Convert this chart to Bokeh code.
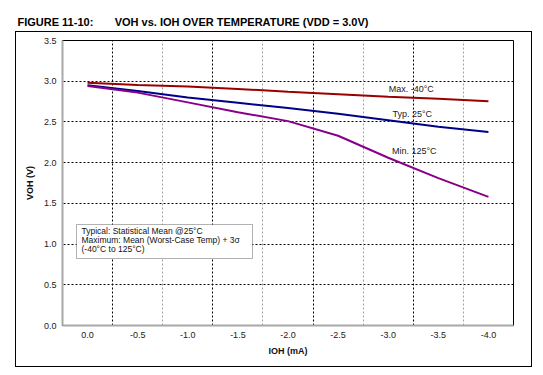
from bokeh.plotting import figure
from bokeh.models import (Range1d, FixedTicker, Grid, Label, BoxAnnotation,
                          CustomJSTickFormatter, InlineStyleSheet)
from bokeh.embed import file_html
from bokeh.resources import INLINE
from bokeh.core.properties import value

# ---- data ----
ioh = [0.0, -0.5, -1.0, -1.5, -2.0, -2.5, -3.0, -3.5, -4.0]
voh_max_m40 = [2.98, 2.955, 2.935, 2.905, 2.87, 2.84, 2.81, 2.785, 2.755]
voh_typ_25 = [2.95, 2.88, 2.80, 2.735, 2.67, 2.60, 2.52, 2.44, 2.375]
voh_min_125 = [2.94, 2.86, 2.74, 2.62, 2.51, 2.33, 2.06, 1.81, 1.58]
x_ticks = [0.0, -0.5, -1.0, -1.5, -2.0, -2.5, -3.0, -3.5, -4.0]
y_ticks = [0.0, 0.5, 1.0, 1.5, 2.0, 2.5, 3.0, 3.5]
series_names = ["Max. -40°C", "Typ. 25°C", "Min. 125°C"]

FONT = "Liberation Sans"
NB = "\u00a0"

p = figure(width=543, height=375, output_backend="svg", toolbar_location=None,
           x_range=Range1d(0.25, -4.25), y_range=Range1d(0.0, 3.5),
           min_border_left=62, min_border_right=30, min_border_top=40,
           min_border_bottom=50, background_fill_color="white",
           border_fill_color="white")

# title
p.title.text = "FIGURE 11-10:" + NB * 7 + "VOH vs. IOH OVER TEMPERATURE (VDD = 3.0V)"
p.title.text_font = FONT
p.title.text_font_size = "11px"
p.title.text_font_style = "bold"
p.title.text_color = "black"
p.title.align = "left"
p.title.offset = -45
p.title.standoff = 25
p.title.text_line_height = 0.8

p.outline_line_color = "black"
p.outline_line_width = 1

# axes
p.xaxis.ticker = FixedTicker(ticks=x_ticks)
p.yaxis.ticker = FixedTicker(ticks=y_ticks)
p.xaxis.formatter = CustomJSTickFormatter(code="return tick.toFixed(1);")
p.yaxis.formatter = CustomJSTickFormatter(code="return tick.toFixed(1);")
for ax in (p.xaxis, p.yaxis):
    ax.axis_line_color = "#a8a8a8"
    ax.axis_line_width = 2
    ax.major_tick_line_color = None
    ax.minor_tick_line_color = None
    ax.major_tick_out = 0
    ax.major_tick_in = 0
    ax.minor_tick_out = 0
    ax.minor_tick_in = 0
    ax.major_label_text_font = FONT
    ax.major_label_text_font_size = "9px"
    ax.major_label_text_color = "#222222"
    ax.axis_label_text_font = FONT
    ax.axis_label_text_font_size = "9px"
    ax.axis_label_text_font_style = "bold"
    ax.axis_label_text_color = "#111111"
p.xaxis.major_label_standoff = 6
p.yaxis.major_label_standoff = 6
p.xaxis.axis_label = "IOH (mA)"
p.yaxis.axis_label = "VOH (V)"
p.xaxis.axis_label_standoff = 5
p.yaxis.axis_label_standoff = 6

# grids
p.xgrid.visible = False
p.ygrid.ticker = FixedTicker(ticks=[0.5, 1.0, 1.5, 2.0, 2.5, 3.0])
p.ygrid.grid_line_color = "black"
p.ygrid.grid_line_dash = "2 2"
p.ygrid.grid_line_width = 1
g1 = Grid(dimension=0, ticker=FixedTicker(ticks=[-0.25, -1.25, -2.25, -3.25]),
          grid_line_color="black", grid_line_dash="2 2", grid_line_width=1)
g2 = Grid(dimension=0, ticker=FixedTicker(ticks=[-0.75, -1.75, -2.75, -3.75]),
          grid_line_color="#a0a0a0", grid_line_dash="2 2", grid_line_width=1)
p.add_layout(g1)
p.add_layout(g2)

# lines
p.line(ioh, voh_max_m40, line_color="#990000", line_width=2)
p.line(ioh, voh_typ_25, line_color="#000088", line_width=2)
p.line(ioh, voh_min_125, line_color="#880088", line_width=2)

# series labels
p.text(x=[-3.23, -3.24, -3.26], y=[2.90, 2.60, 2.137], text=series_names,
       text_font=value(FONT), text_font_size="9px", text_color="#222222",
       text_align="center", text_baseline="middle")

# note box
p.add_layout(BoxAnnotation(left=14, right=190, top=101, bottom=67,
                           left_units="screen", right_units="screen",
                           top_units="screen", bottom_units="screen",
                           fill_color="white", fill_alpha=1.0,
                           line_color="black", line_width=1, level="overlay"))
notes = ["Typical: Statistical Mean @25°C",
         "Maximum: Mean (Worst-Case Temp) + 3σ",
         "(-40°C to 125°C)"]
for i, t in enumerate(notes):
    p.add_layout(Label(x=19, y=94.5 - 9 * i, x_units="screen", y_units="screen",
                       text=t, text_font=FONT, text_font_size="8.5px",
                       text_color="#111111", text_baseline="middle",
                       level="overlay"))

# outer frame around the chart (page decoration)
p.stylesheets = [InlineStyleSheet(css="""
:host::after {
  content: '';
  position: absolute;
  left: 15px; top: 31px; width: 517px; height: 336px;
  border: 1px solid black;
  box-sizing: border-box;
  pointer-events: none;
}
""")]

open("out.html", "w").write(file_html(p, INLINE))
